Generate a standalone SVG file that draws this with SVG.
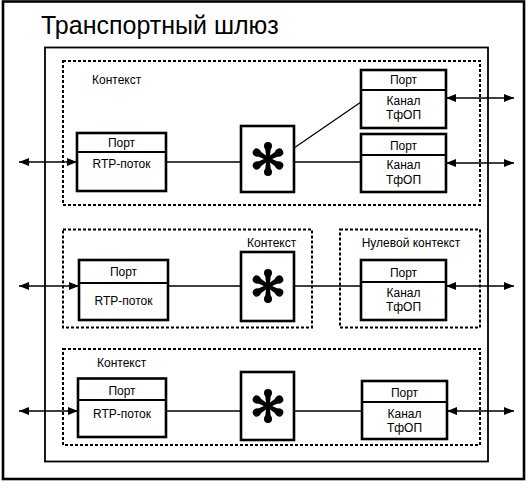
<svg xmlns="http://www.w3.org/2000/svg" xmlns:xlink="http://www.w3.org/1999/xlink" width="532" height="492" viewBox="0 0 532 492">
<style>
.frame{fill:none;stroke:#000;stroke-width:2.6}
.gw{fill:none;stroke:#000;stroke-width:1.8}
.ctx{fill:none;stroke:#000;stroke-width:2;stroke-dasharray:3 2}
.box{fill:#fff;stroke:#000;stroke-width:2.6}
.div{stroke:#000;stroke-width:1.8}
.ln{fill:none;stroke:#000;stroke-width:1.3}
.arr{fill:none;stroke:#000;stroke-width:1.3;marker-start:url(#ah);marker-end:url(#ah)}
text{font-family:"Liberation Sans",Arial,sans-serif;fill:#000}
.t{font-size:12px;text-anchor:middle}
.c{font-size:12px}
.title{font-size:25px}
</style>
<defs>
<marker id="ah" viewBox="0 0 10 8" refX="10" refY="4" markerWidth="10" markerHeight="8" markerUnits="userSpaceOnUse" orient="auto-start-reverse">
<path d="M0 0 L10 4 L0 8 Z" fill="#000"/>
</marker>
<g id="star">
<g id="arm"><path d="M-1.6 0 L-3 -12 L3 -12 L1.6 0 Z" fill="#000"/><circle cx="0" cy="-13" r="4" fill="#000"/></g>
<use xlink:href="#arm" transform="rotate(60)"/>
<use xlink:href="#arm" transform="rotate(120)"/>
<use xlink:href="#arm" transform="rotate(180)"/>
<use xlink:href="#arm" transform="rotate(240)"/>
<use xlink:href="#arm" transform="rotate(300)"/>
<circle r="3" fill="#000"/>
</g>
</defs>
<rect x="3" y="1.5" width="521" height="477.5" fill="#fff"/>
<rect class="frame" x="3" y="1.5" width="521" height="477.5"/>
<text class="title" x="41" y="34">Транспортный шлюз</text>
<g id="gateway"><rect class="gw" x="45" y="47.5" width="443" height="414"/></g>

<g id="context1"><rect class="ctx" x="63" y="61" width="417" height="144"/><text class="c" x="92" y="84">Контекст</text></g>
<g id="context2"><rect class="ctx" x="63" y="229.5" width="249" height="98"/><text class="c" x="247" y="247">Контекст</text></g>
<g id="nullcontext"><rect class="ctx" x="340" y="229.5" width="140" height="98"/><text class="c" x="411" y="247" text-anchor="middle">Нулевой контекст</text></g>
<g id="context3"><rect class="ctx" x="63" y="349" width="417" height="96"/><text class="c" x="97" y="367">Контекст</text></g>

<g id="connectors">
<line class="ln" x1="166" y1="162" x2="241" y2="162"/>
<line class="ln" x1="294" y1="162" x2="361" y2="162"/>
<line class="ln" x1="294" y1="148" x2="361" y2="102"/>
<line class="ln" x1="168" y1="286" x2="241" y2="286"/>
<line class="ln" x1="294" y1="286" x2="361" y2="286"/>
<line class="ln" x1="166" y1="411" x2="241" y2="411"/>
<line class="ln" x1="294" y1="411" x2="362" y2="411"/>
<line class="arr" x1="19" y1="162" x2="77" y2="162"/>
<line class="arr" x1="446" y1="98" x2="514" y2="98"/>
<line class="arr" x1="446" y1="163" x2="514" y2="163"/>
<line class="arr" x1="19" y1="286" x2="79" y2="286"/>
<line class="arr" x1="446" y1="286" x2="514" y2="286"/>
<line class="arr" x1="19" y1="411" x2="78" y2="411"/>
<line class="arr" x1="447" y1="411" x2="514" y2="411"/>
</g>

<g id="rtp1"><rect class="box" x="77" y="133" width="89" height="58"/><line class="div" x1="77" y1="152" x2="166" y2="152"/><text class="t" x="121.5" y="147">Порт</text><text class="t" x="121.5" y="168">RTP-поток</text></g>
<g id="mix1"><rect class="box" x="241" y="126" width="53" height="66"/><use xlink:href="#star" x="268" y="159"/></g>
<g id="pstn1a"><rect class="box" x="361" y="70" width="85" height="58"/><line class="div" x1="361" y1="90" x2="446" y2="90"/><text class="t" x="403.5" y="84">Порт</text><text class="t" x="403.5" y="105">Канал</text><text class="t" x="403.5" y="119">ТфОП</text></g>
<g id="pstn1b"><rect class="box" x="361" y="134" width="85" height="58"/><line class="div" x1="361" y1="155" x2="446" y2="155"/><text class="t" x="403.5" y="150">Порт</text><text class="t" x="403.5" y="169">Канал</text><text class="t" x="403.5" y="184">ТфОП</text></g>

<g id="rtp2"><rect class="box" x="79" y="260" width="89" height="60"/><line class="div" x1="79" y1="283" x2="168" y2="283"/><text class="t" x="123.5" y="276">Порт</text><text class="t" x="123.5" y="305">RTP-поток</text></g>
<g id="mix2"><rect class="box" x="241" y="252" width="53" height="69"/><use xlink:href="#star" x="268" y="286"/></g>
<g id="pstn2"><rect class="box" x="361" y="260" width="85" height="60"/><line class="div" x1="361" y1="282" x2="446" y2="282"/><text class="t" x="403.5" y="277">Порт</text><text class="t" x="403.5" y="297">Канал</text><text class="t" x="403.5" y="311">ТфОП</text></g>

<g id="rtp3"><rect class="box" x="78" y="378.5" width="88" height="58.5"/><line class="div" x1="78" y1="400" x2="166" y2="400"/><text class="t" x="122" y="395">Порт</text><text class="t" x="122" y="418">RTP-поток</text></g>
<g id="mix3"><rect class="box" x="241" y="372" width="53" height="68"/><use xlink:href="#star" x="268" y="406"/></g>
<g id="pstn3"><rect class="box" x="362" y="381" width="85" height="58"/><line class="div" x1="362" y1="402" x2="447" y2="402"/><text class="t" x="404.5" y="397">Порт</text><text class="t" x="404.5" y="418">Канал</text><text class="t" x="404.5" y="432">ТфОП</text></g>
</svg>
